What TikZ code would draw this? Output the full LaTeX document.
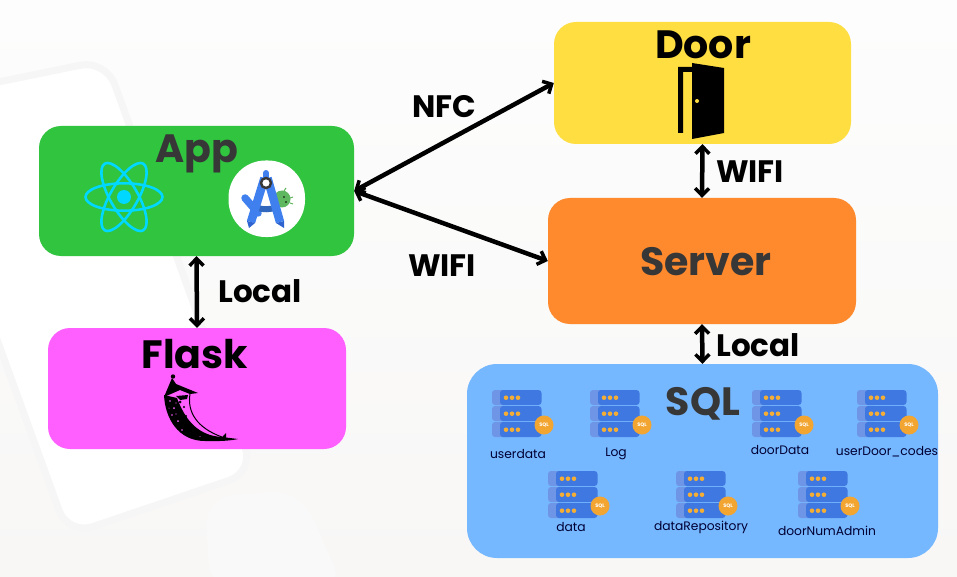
\documentclass[tikz,border=0pt]{standalone}
\usepackage{fontspec}
\setmainfont{Poppins}
\usetikzlibrary{arrows.meta}
\definecolor{bgtop}{HTML}{FDFDFD}
\definecolor{bgbot}{HTML}{F8F7F6}
\definecolor{shadowc}{HTML}{F6F6F6}
\definecolor{blobc}{HTML}{FAF9F9}
\definecolor{appc}{HTML}{30C43F}
\definecolor{flaskc}{HTML}{FF5FFF}
\definecolor{doorc}{HTML}{FFDE42}
\definecolor{serverc}{HTML}{FF8A2E}
\definecolor{sqlc}{HTML}{76B8FF}
\definecolor{darkt}{HTML}{373737}
\definecolor{reactc}{HTML}{00D8FF}
\definecolor{dbblue}{HTML}{3F78E0}
\definecolor{dbside}{HTML}{6F95E6}
\definecolor{dbdot}{HTML}{F5AE35}
\definecolor{dbbadge}{HTML}{F2A531}
\definecolor{asblue}{HTML}{3F80EE}
\definecolor{asdark}{HTML}{2F63D0}
\definecolor{asgreen}{HTML}{5FB760}
\tikzset{
  box/.style={rounded corners=22pt,minimum height=#1,inner sep=0pt},
  title/.style={font=\fontsize{39.5}{40}\selectfont\bfseries,inner sep=0pt,anchor=base},
  linklabel/.style={font=\fontsize{31}{32}\selectfont\bfseries,inner sep=0pt,anchor=base,text=black},
  dblabel/.style={font=\fontsize{12.3}{13}\selectfont,inner sep=0pt,text=black!80!blue},
  link/.style={line width=4.5pt,{Straight Barb[length=7pt,width=14pt,line width=3.5pt]}-{Straight Barb[length=7pt,width=14pt,line width=3.5pt]}},
  dbicon/.pic={
    \foreach \yy in {0,16,32}{
      \fill[dbside,rounded corners=3pt] (0,\yy) rectangle (20,\yy+15);
      \fill[dbblue,rounded corners=3pt] (8,\yy) rectangle (49.5,\yy+15);
      \foreach \xx in {14,20,26}\fill[dbdot] (\xx,\yy+7.7) circle (2.3);
    }
    \fill[dbbadge] (52,35) circle (9.5);
    \node[text=white,font=\fontsize{5}{5}\selectfont\bfseries,inner sep=0pt] at (52,35) {SQL};
  }
}
\begin{document}
\begin{tikzpicture}[x=1pt,y=-1pt]
\useasboundingbox (0,0) rectangle (957,577);
\shade[top color=bgtop,bottom color=bgbot] (0,0) rectangle (957,577);
% faint background phone
\begin{scope}
\clip (0,0) rectangle (957,577);
\fill[blobc,rounded corners=28pt] (205,497) -- (300,490) -- (345,590) -- (210,590) -- cycle;
\draw[shadowc,line width=7pt,fill=white,rounded corners=26pt] (106,60) -- (254,472) -- (68,535) -- (-90,100) -- cycle;
\end{scope}

% boxes
\node[box=130pt,fill=appc,minimum width=315pt] (app) at (196.5,191) {};
\node[box=121pt,fill=flaskc,minimum width=298pt] (flask) at (197,388.5) {};
\node[box=122pt,fill=doorc,minimum width=297pt] (door) at (702.5,83) {};
\node[box=126pt,fill=serverc,minimum width=308pt] (server) at (702,261) {};
\node[box=194pt,fill=sqlc,minimum width=471pt,rounded corners=30pt] (sql) at (702.5,461) {};

% connectors
\draw[link] (app.east) -- (door.west);
\draw[link] (app.east) -- (server.west);
\draw[link] (door.south) -- (server.north);
\draw[link] (server.south) -- (sql.north);
\draw[link] (app.south) -- (flask.north);

% titles
\node[title,text=darkt] (tapp) at (197,163) {App};
\node[title,text=black] (tflask) at (195,368) {Flask};
\node[title,text=black] (tdoor) at (703,59) {Door};
\node[title,text=darkt] (tserver) at (706,275) {Server};
\node[title,text=darkt] (tsql) at (703,415) {SQL};

% link labels
\node[linklabel] (lnfc) at (444,117.5) {NFC};
\node[linklabel] (lwifi1) at (442,276) {WIFI};
\node[linklabel] (lwifi2) at (750,183) {WIFI};
\node[linklabel] (llocal1) at (260,302) {Local};
\node[linklabel] (llocal2) at (758,356) {Local};

% React logo
\begin{scope}[shift={(124,197)}]
\foreach \a in {0,60,120}\draw[reactc,line width=2.6pt,rotate=\a] (0,0) ellipse (38.5 and 13.7);
\fill[reactc] (0,0) circle (7);
\end{scope}

% Android Studio logo
\fill[white,rounded corners=37pt] (228.5,160.5) rectangle (305,237);
\fill[asgreen] (282,199) circle (8.5);
\draw[asgreen,line width=1pt] (284,191) -- (286,188) (290,198) -- (293,197) (290,203) -- (293,204);
\fill[black] (284,197) circle (.8) (286,202) circle (.8);
\draw[asblue,line width=7.5pt,line cap=round] (245,198) -- (258,213);
\draw[asblue!80!black,line width=6pt] (255,207) .. controls (263,210) and (270,210) .. (277,207);
\draw[asblue,line width=8.5pt] (264.5,178) -- (251,222);
\draw[asblue,line width=8.5pt] (267.5,178) -- (280,222);
\draw[asblue,line width=6pt,line cap=round] (266,173) -- (266,180);
\fill[asdark] (247,221) -- (255,223) -- (249,228) -- cycle (276,223) -- (284,221) -- (284,228) -- cycle;
\fill[white] (266,183) circle (4);
\draw[darkt,line width=2.4pt] (266,183) circle (5);

% door icon
\fill[black] (678,67) -- (692,67) -- (692,72) -- (683,72) -- (683,133) -- (678,133) -- cycle;
\fill[black] (692,63) -- (724,68) -- (724,133) -- (692,139) -- cycle;
\fill[doorc] (697,101) circle (2);

% flask horn
\fill[black] (173,376.5) circle (2.2);
\fill[black] (172,378) -- (176,384) -- (198,393) -- (190,394) -- (180,390) -- (164,397) -- cycle;
\draw[black,line width=1pt,line join=round]
 (190,394) .. controls (187,412) and (197,428) .. (222,437);
\fill[black,line join=round]
 (164,395) .. controls (165,418) and (178,441) .. (205,441)
 .. controls (220,441.5) and (232,440.5) .. (238,439)
 -- (226,437.5) -- (226,433) -- (222,437)
 .. controls (205,436) and (188,428) .. (177,398) -- cycle;
\fill[black] (176,396) -- (188,395) -- (187,399) -- (180,400) -- cycle;
\fill[black] (180,402) circle (1.5) (184,407) circle (1.2) (181,412) circle (2) (186,416) circle (1.2) (184,421) circle (2) (191,427) circle (1.5);
\fill[flaskc] (170,401) circle (.8) (174,408) circle (1) (172,415) circle (.8) (178,421) circle (1)
 (182,430) circle (.8) (176,403) circle (.7) (169,408) circle (.5) (176,414) circle (.6) (200,436.5) circle (.5);

% database icons and their labels
\pic at (492,390) {dbicon};
\pic at (590,390) {dbicon};
\pic at (752,390) {dbicon};
\pic at (857,390) {dbicon};
\pic at (548,471) {dbicon};
\pic at (676,471) {dbicon};
\pic at (798,471) {dbicon};
\node[dblabel] (d1) at (518,454) {userdata};
\node[dblabel] (d2) at (616,454) {Log};
\node[dblabel] (d3) at (780,450) {doorData};
\node[dblabel] (d4) at (887,452) {userDoor\_codes};
\node[dblabel] (d5) at (571,527) {data};
\node[dblabel] (d6) at (701,527) {dataRepository};
\node[dblabel] (d7) at (827,531) {doorNumAdmin};
\end{tikzpicture}
\end{document}
